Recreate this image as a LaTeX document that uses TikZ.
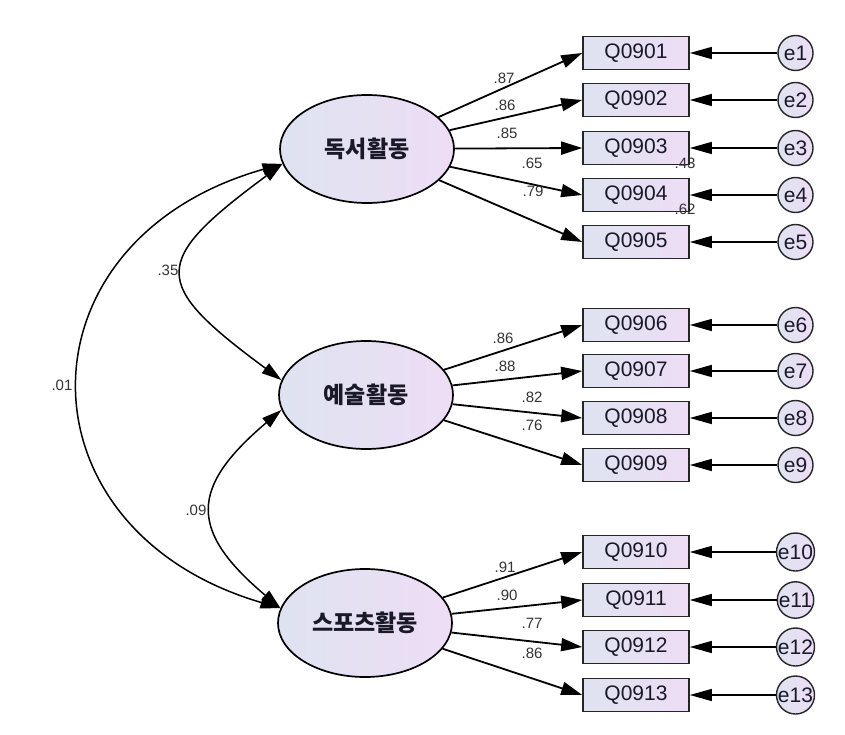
\documentclass[tikz,border=0pt]{standalone}
\usepackage{fontspec}
\setmainfont{Liberation Sans}
\newfontfamily\kr{Noto Sans CJK KR}
\usetikzlibrary{arrows.meta,shapes.geometric}
\definecolor{gl}{RGB}{222,227,241}
\definecolor{gr}{RGB}{238,221,245}
\definecolor{txt}{RGB}{25,25,40}
\tikzset{
 latent/.style={ellipse, draw=black, line width=1.7pt, left color=gl, right color=gr, minimum width=174pt, minimum height=108pt, inner sep=0pt, font=\kr\bfseries\fontsize{23}{23}\selectfont, text=txt},
 obs/.style={rectangle, draw=black!85, line width=1.6pt, left color=gl, right color=gr, minimum width=106pt, minimum height=33pt, inner sep=0pt, font=\fontsize{21}{21}\selectfont, text=txt},
 err/.style={circle, draw=black!85, line width=1.4pt, left color=gl, right color=gr, minimum size=35pt, inner sep=0pt, font=\fontsize{21}{21}\selectfont, text=txt},
 load/.style={line width=1.8pt, -{Triangle[length=21pt,width=13pt]}},
 eline/.style={line width=1.3pt, -{Triangle[length=22pt,width=12pt]}},
 cov/.style={line width=1.5pt, {Triangle[length=20pt,width=12pt]}-{Triangle[length=20pt,width=12pt]}},
 lbl/.style={font=\fontsize{15}{15}\selectfont, text=black!80, inner sep=0pt},
}
\begin{document}
\begin{tikzpicture}[x=1pt,y=-1pt]
\useasboundingbox (0,0) rectangle (845,735);
% latent variables
\node[latent] (D) at (367,149) {독서활동};
\node[latent] (E) at (366,395) {예술활동};
\node[latent] (S) at (365,623) {스포츠활동};
% observed variables and errors
\foreach \n/\y/\e in {01/53/1,02/100/2,03/148/3,04/195/4,05/242/5,06/325/6,07/371/7,08/418/8,09/465/9,10/552/10,11/600/11,12/647/12,13/695/13}{
  \node[obs] (q\e) at (636,\y) {Q09\n};
  \node[err] (e\e) at (795.5,\y) {e\e};
  \draw[eline] (e\e.west) -- (q\e.east);
}
% loadings
\foreach \i in {1,...,5}{\draw[load] (D) -- (q\i.west);}
\foreach \i in {6,...,9}{\draw[load] (E) -- (q\i.west);}
\foreach \i in {10,...,13}{\draw[load] (S) -- (q\i.west);}
% covariances
\draw[cov] (D.190) .. controls (13,240) and (13,530) .. (S.170);
\draw[cov] (D.190) .. controls (150,262) and (150,283) .. (E.170);
\draw[cov] (E.190) .. controls (189,488) and (189,531) .. (S.170);
% labels
\node[lbl] at (62,385) {.01};
\node[lbl] at (168,270) {.35};
\node[lbl] at (196,510) {.09};
\node[lbl] at (504,78) {.87};
\node[lbl] at (505,105) {.86};
\node[lbl] at (507,133) {.85};
\node[lbl] at (532,163) {.65};
\node[lbl] at (533,191) {.79};
\node[lbl] at (685,163) {.43};
\node[lbl] at (685,209) {.62};
\node[lbl] at (503,338) {.86};
\node[lbl] at (505,366) {.88};
\node[lbl] at (532,397) {.82};
\node[lbl] at (532,425) {.76};
\node[lbl] at (505,567) {.91};
\node[lbl] at (507,595) {.90};
\node[lbl] at (532,623) {.77};
\node[lbl] at (532,653) {.86};
\end{tikzpicture}
\end{document}
